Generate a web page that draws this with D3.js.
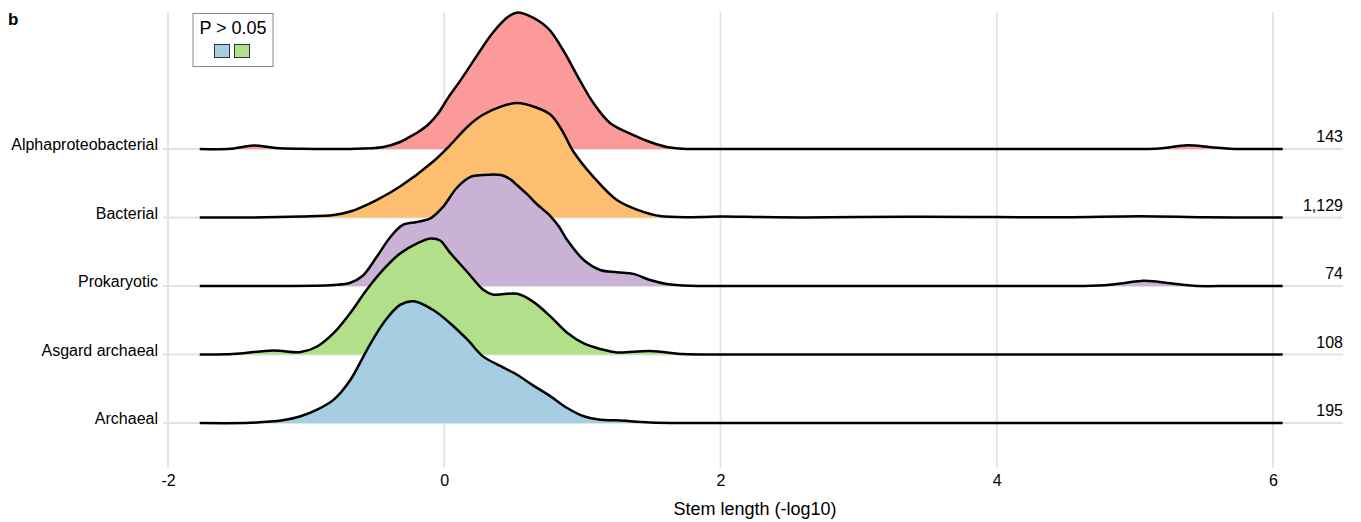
<!DOCTYPE html>
<html>
<head>
<meta charset="utf-8">
<script src="https://cdn.jsdelivr.net/npm/d3@7"></script>
<style>
  body { margin: 0; background: #fff; }
  svg { display: block; font-family: "Liberation Sans", Arial, Helvetica, sans-serif; }
</style>
</head>
<body>
<svg id="chart" width="1361" height="522"></svg>
<script>
// Ridge groups, top to bottom
const groups = ["Alphaproteobacterial", "Bacterial", "Prokaryotic", "Asgard archaeal", "Archaeal"];
const counts = ["143", "1,129", "74", "108", "195"];
const colors = ["#FB9A99", "#FDBF6F", "#CAB2D6", "#B2DF8A", "#A6CEE3"];
const xTicks = [-2, 0, 2, 4, 6];
const legendTitle = "P > 0.05";
const legendColors = ["#A6CEE3", "#B2DF8A"];

// Kernel density estimates of stem length (-log10), per group
const alphaproteoX = [-1.77,-1.55,-1.38,-1.22,-1.04,-0.85,-0.68,-0.44,-0.32,-0.25,-0.20,-0.12,-0.05,0.03,0.12,0.24,0.35,0.46,0.53,0.60,0.75,0.86,0.98,1.08,1.20,1.37,1.49,1.61,1.73,2.00,2.50,3.00,3.50,4.00,4.50,4.80,5.10,5.20,5.38,5.55,5.75,5.90,6.07];
const alphaproteoD = [0,0.001,0.017,0.005,0.001,0,0,0.010,0.034,0.059,0.078,0.117,0.168,0.252,0.337,0.459,0.566,0.644,0.666,0.654,0.590,0.483,0.337,0.224,0.127,0.068,0.034,0.010,0.001,0,0,0,0,0,0,0,0,0.004,0.018,0.009,0,0,0];

const bacterialX = [-1.77,-1.40,-1.04,-0.80,-0.68,-0.49,-0.32,-0.08,0.04,0.17,0.28,0.41,0.53,0.65,0.77,0.86,0.93,1.08,1.25,1.40,1.56,1.85,2.00,2.30,2.60,3.00,3.50,4.00,4.50,5.04,5.50,5.80,6.07];
const bacterialD = [0,0,0.005,0.012,0.029,0.085,0.151,0.273,0.351,0.444,0.501,0.541,0.558,0.540,0.501,0.416,0.327,0.198,0.085,0.037,0.007,0.002,0.005,0.002,0,0.002,0.004,0.002,0.001,0.006,0.001,0,0];

const prokaryoticX = [-1.77,-1.30,-0.80,-0.68,-0.59,-0.49,-0.39,-0.30,-0.20,-0.10,-0.01,0.09,0.19,0.28,0.41,0.48,0.53,0.60,0.67,0.73,0.77,0.83,0.89,1.01,1.13,1.25,1.37,1.49,1.61,1.78,2.00,2.50,3.00,3.50,4.00,4.40,4.63,4.82,4.93,5.06,5.18,5.33,5.45,5.70,6.07];
const prokaryoticD = [0,0,0.005,0.016,0.050,0.141,0.239,0.298,0.312,0.330,0.385,0.478,0.532,0.541,0.541,0.520,0.490,0.448,0.400,0.365,0.340,0.290,0.224,0.127,0.078,0.067,0.059,0.029,0.010,0.001,0,0,0,0,0,0,0,0.006,0.015,0.026,0.020,0.007,0,0,0];

const asgardX = [-1.77,-1.53,-1.24,-1.04,-0.92,-0.80,-0.68,-0.56,-0.44,-0.32,-0.20,-0.10,-0.03,0.04,0.17,0.28,0.35,0.53,0.64,0.77,0.89,1.01,1.13,1.25,1.49,1.73,1.90,2.20,2.70,3.20,3.70,4.20,4.70,5.20,5.70,6.07];
const asgardD = [0,0.002,0.020,0.012,0.039,0.105,0.203,0.317,0.415,0.493,0.541,0.566,0.556,0.498,0.400,0.317,0.293,0.296,0.259,0.185,0.106,0.054,0.027,0.010,0.017,0.002,0,0,0,0,0,0,0,0,0,0];

const archaealX = [-1.77,-1.40,-1.17,-1.04,-0.92,-0.80,-0.68,-0.56,-0.44,-0.32,-0.22,-0.08,0.04,0.17,0.28,0.41,0.53,0.64,0.77,0.89,1.01,1.13,1.25,1.49,1.73,2.00,2.50,3.00,3.50,4.00,4.50,5.00,5.50,6.07];
const archaealD = [0,0.001,0.013,0.033,0.065,0.114,0.210,0.356,0.488,0.576,0.594,0.551,0.488,0.405,0.325,0.277,0.234,0.185,0.130,0.073,0.033,0.016,0.013,0.003,0,0,0,0,0,0,0,0,0,0];

const seriesX = [alphaproteoX, bacterialX, prokaryoticX, asgardX, archaealX];
const seriesD = [alphaproteoD, bacterialD, prokaryoticD, asgardD, archaealD];

const svg = d3.select("#chart");
const font = "'Liberation Sans', Arial, Helvetica, sans-serif";

const x = d3.scaleLinear().domain([-2, 6]).range([168, 1273]);
const y = d3.scalePoint().domain(groups).range([149, 423]);
const h = d3.scaleLinear().domain([0, 1]).range([0, 205]);
const gridColor = "#e3e3e3";
const curve = d3.curveCatmullRom.alpha(0.5);

// Vertical grid lines
svg.append("g").selectAll("line").data(xTicks).join("line")
  .attr("x1", d => x(d)).attr("x2", d => x(d))
  .attr("y1", 12).attr("y2", 468)
  .attr("stroke", gridColor).attr("stroke-width", 1.8);

// Horizontal baselines
svg.append("g").selectAll("line").data(groups).join("line")
  .attr("x1", 163).attr("x2", 1343)
  .attr("y1", d => y(d)).attr("y2", d => y(d))
  .attr("stroke", gridColor).attr("stroke-width", 1.8);

// Ridges (upper ones drawn first so lower ridges overlap them)
groups.forEach((g, i) => {
  const base = y(g);
  const pts = seriesX[i].map((v, k) => [v, seriesD[i][k]]);
  const area = d3.area().curve(curve)
    .x(d => x(d[0])).y0(base).y1(d => base - h(d[1]));
  const line = d3.line().curve(curve)
    .x(d => x(d[0])).y(d => base - h(d[1]));
  const grp = svg.append("g");
  grp.append("path").attr("d", area(pts)).attr("fill", colors[i]);
  grp.append("path").attr("d", line(pts)).attr("fill", "none")
    .attr("stroke", "#000").attr("stroke-width", 2.5).attr("stroke-linejoin", "round");
});

// Group labels
svg.append("g").selectAll("text").data(groups).join("text")
  .attr("x", 158).attr("y", d => y(d) + 1)
  .attr("text-anchor", "end").attr("font-size", 16).attr("font-family", font)
  .attr("fill", "#000").text(d => d);

// Counts on the right
svg.append("g").selectAll("text").data(groups).join("text")
  .attr("x", 1343).attr("y", d => y(d) - 7)
  .attr("text-anchor", "end").attr("font-size", 16).attr("font-family", font)
  .attr("fill", "#000").text((d, i) => counts[i]);

// X axis
const xAxis = d3.axisBottom(x).tickValues(xTicks).tickSize(0).tickPadding(0)
  .tickFormat(d => d < 0 ? "-" + Math.abs(d) : String(d));
const ax = svg.append("g").attr("transform", "translate(0,486)").call(xAxis);
ax.select(".domain").remove();
ax.selectAll("text").attr("dy", 0).attr("font-size", 16).attr("font-family", font).attr("fill", "#000");

svg.append("text").attr("x", 755).attr("y", 515)
  .attr("text-anchor", "middle").attr("font-size", 18).attr("font-family", font)
  .text("Stem length (-log10)");

// Panel letter
svg.append("text").attr("x", 8).attr("y", 25)
  .attr("font-size", 17).attr("font-weight", "bold").attr("font-family", font)
  .text("b");

// Legend
const lg = svg.append("g");
lg.append("rect").attr("x", 193).attr("y", 13.5).attr("width", 80).attr("height", 53)
  .attr("fill", "#fff").attr("stroke", "#8a8a8a").attr("stroke-width", 1);
lg.append("text").attr("x", 233).attr("y", 33.5).attr("text-anchor", "middle")
  .attr("font-size", 18).attr("font-family", font).text(legendTitle);
lg.selectAll(".sw").data(legendColors).join("rect").attr("class", "sw")
  .attr("x", (d, i) => 214.5 + i * 20).attr("y", 44.5).attr("width", 15).attr("height", 13)
  .attr("fill", d => d).attr("stroke", "#333").attr("stroke-width", 1);
</script>
</body>
</html>
